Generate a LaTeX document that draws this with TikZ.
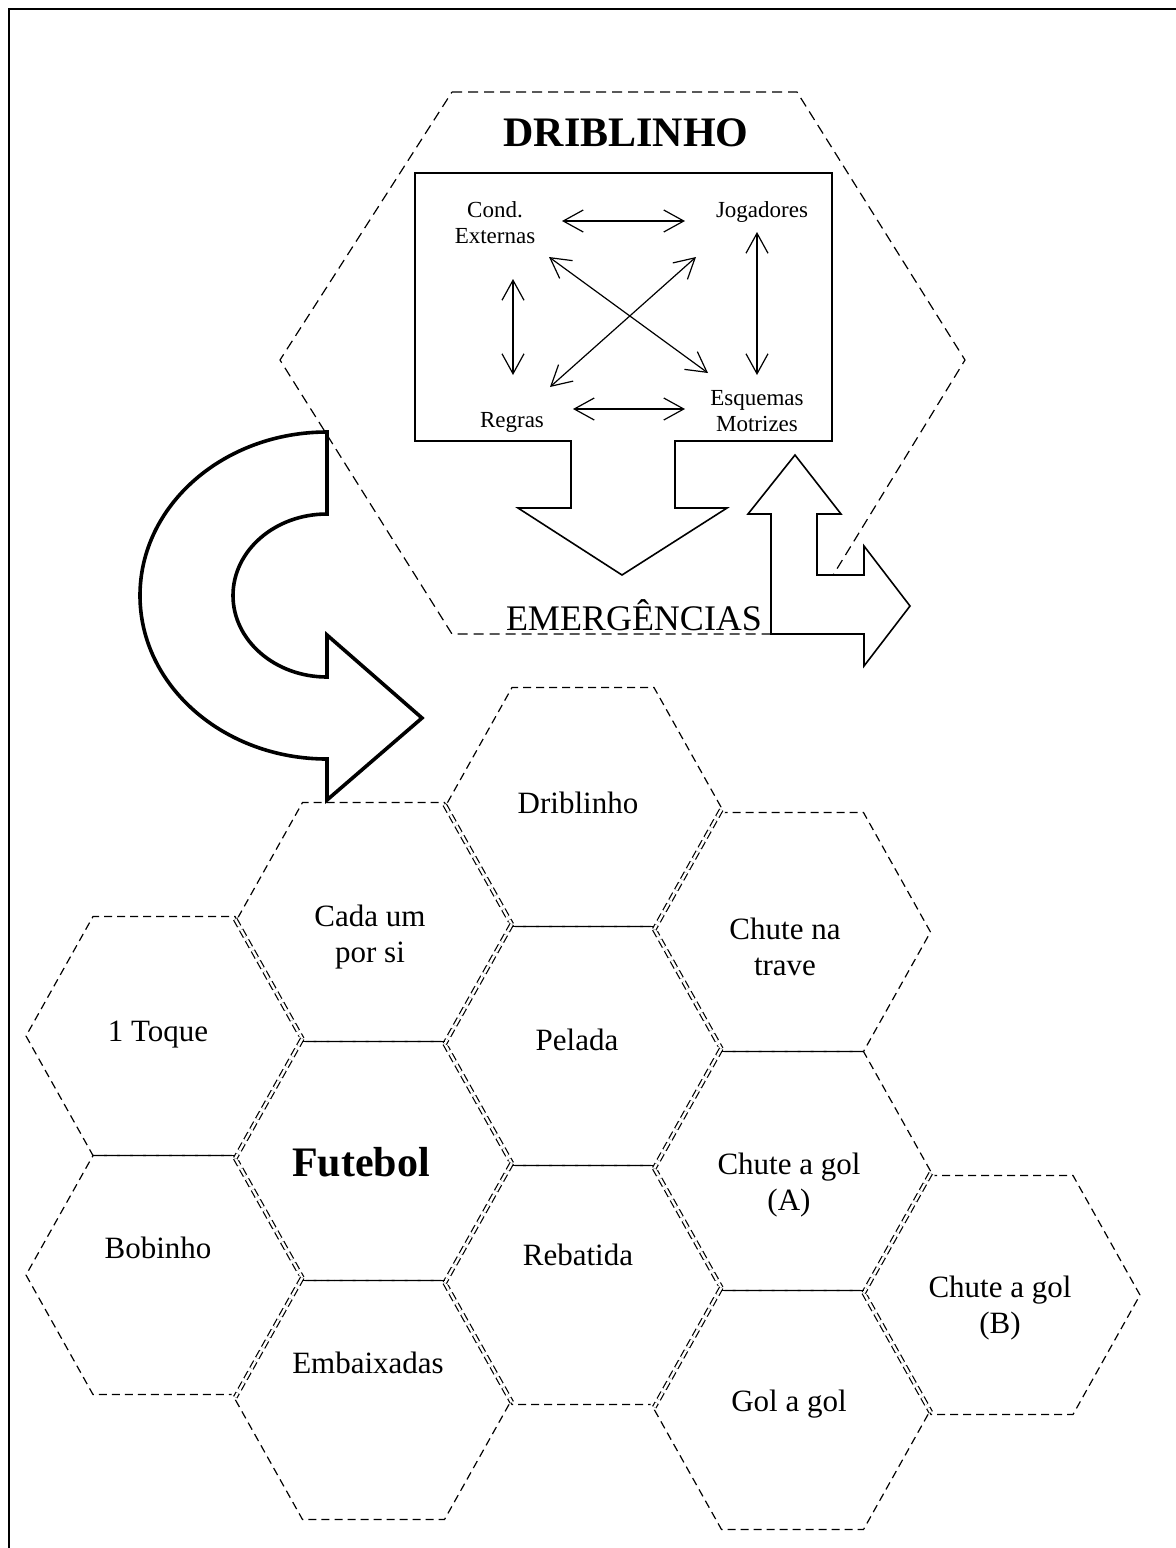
\documentclass[tikz,border=0pt]{standalone}
\usepackage{fontspec}
\setmainfont{Liberation Serif}
\usetikzlibrary{arrows.meta,calc}

\newcommand{\szsmall}{\fontsize{11.5}{13}\selectfont}
\newcommand{\szhex}{\fontsize{15.5}{18}\selectfont}
\newcommand{\szbig}{\fontsize{21}{24}\selectfont\bfseries}
\newcommand{\szem}{\fontsize{18}{21}\selectfont}

% hexagon cell: name, centre x, centre y (pixel units)
\newcommand{\mkhex}[3]{%
  \coordinate (#1) at (#2,#3);
  \coordinate (#1-r)  at ($(#1)+(138,0)$);
  \coordinate (#1-tr) at ($(#1)+(71,-119.5)$);
  \coordinate (#1-tl) at ($(#1)+(-71,-119.5)$);
  \coordinate (#1-l)  at ($(#1)+(-138,0)$);
  \coordinate (#1-bl) at ($(#1)+(-71,119.5)$);
  \coordinate (#1-br) at ($(#1)+(71,119.5)$);
  \draw[hexline] (#1-r) -- (#1-tr) -- (#1-tl) -- (#1-l) -- (#1-bl) -- (#1-br) -- cycle;
}
% shared slanted edge: right cell up-right / down-right of left cell
\newcommand{\shup}[2]{\draw[sharedslant] ($(#1-tr)!.5!(#2-l)$) -- ($(#1-r)!.5!(#2-bl)$);}
\newcommand{\shdn}[2]{\draw[sharedslant] ($(#1-r)!.5!(#2-tl)$) -- ($(#1-br)!.5!(#2-l)$);}

\begin{document}
\begin{tikzpicture}[x=0.5pt,y=-0.5pt,
  hexline/.style={line width=0.6pt, dash pattern=on 4pt off 2.5pt},
  sharedslant/.style={preaction={draw=white, line width=4.5pt, solid},
    line width=0.6pt, double=white, double distance=1.2pt, dash pattern=on 4pt off 2pt},
  sharedflat/.style={line width=0.8pt},
  tophex/.style={line width=0.6pt, dash pattern=on 5pt off 3pt},
  boxline/.style={line width=0.8pt, fill=white, line join=miter},
  bigarrow/.style={line width=1.8pt, fill=white, line join=miter},
  rel/.style={line width=0.6pt, {Straight Barb[length=10pt,width=11pt]}-{Straight Barb[length=10pt,width=11pt]}},
  small/.style={font=\szsmall, align=center, inner sep=0pt},
  hexlab/.style={font=\szhex, align=center, inner sep=0pt},
  biglab/.style={font=\szbig, inner sep=0pt}
]
\useasboundingbox (0,0) rectangle (1176,1548);

% page frame
\draw[line width=1pt] (9,1548) -- (9,9) -- (1176,9);

% ---------- top hexagon ----------
\draw[tophex] (452,92) -- (797,92) -- (965,360) -- (797,634) -- (452,634) -- (280,360) -- cycle;
\node[biglab] (title) at (626,133) {DRIBLINHO};

% box with down arrow
\draw[boxline] (415,441) -- (415,173) -- (832,173) -- (832,441) -- (675,441) -- (675,508)
  -- (727,508) -- (622,575) -- (518,508) -- (571,508) -- (571,441) -- cycle;

\node[small] (cond) at (495,223) {Cond.\\Externas};
\node[small] (jog)  at (762,212) {Jogadores};
\node[small] (reg)  at (512,422) {Regras};
\node[small] (esq)  at (757,411) {Esquemas\\Motrizes};

\coordinate (ct1) at (562,221); \coordinate (jt1) at (685,221);
\coordinate (cv1) at (513,279); \coordinate (rv1) at (513,375);
\coordinate (jv1) at (757,232); \coordinate (ev1) at (757,375);
\coordinate (cd1) at (549,257); \coordinate (ed1) at (708,373);
\coordinate (jd1) at (696,257); \coordinate (rd1) at (550,387);
\coordinate (rb1) at (573,409); \coordinate (eb1) at (685,409);
\draw[rel] (ct1) -- (jt1);
\draw[rel] (cv1) -- (rv1);
\draw[rel] (jv1) -- (ev1);
\draw[rel] (cd1) -- (ed1);
\draw[rel] (jd1) -- (rd1);
\draw[rel] (rb1) -- (eb1);

% up / right arrow
\draw[boxline] (795,455) -- (841,514) -- (817,514) -- (817,575) -- (864,575) -- (864,546)
  -- (910,606) -- (864,666) -- (864,634) -- (771,634) -- (771,514) -- (748,514) -- cycle;

\node[font=\szem, anchor=base, inner sep=0pt] (emer) at (634,630) {EMERGÊNCIAS};

% ---------- honeycomb ----------
\mkhex{A0}{164}{1036}
\mkhex{B0}{164}{1275}
\mkhex{A1}{373.5}{922}
\mkhex{B1}{373.5}{1161}
\mkhex{C1}{373.5}{1400}
\mkhex{A2}{583}{807}
\mkhex{B2}{583}{1046}
\mkhex{C2}{583}{1285}
\mkhex{A3}{792.5}{932}
\mkhex{B3}{792.5}{1171}
\mkhex{C3}{792.5}{1410}
\mkhex{B4}{1002}{1295}

% shared slanted edges (drawn double)
\shup{A0}{A1} \shup{B0}{B1} \shup{A1}{A2} \shup{B1}{B2} \shup{C1}{C2}
\shup{B2}{A3} \shup{C2}{B3} \shup{C3}{B4}
\shdn{A0}{B1} \shdn{B0}{C1} \shdn{A1}{B2} \shdn{B1}{C2}
\shdn{A2}{A3} \shdn{B2}{B3} \shdn{C2}{C3} \shdn{B3}{B4}

% shared horizontal edges
\foreach \h in {A0,A1,B1,A2,B2,A3,B3} {
  \draw[sharedflat] (\h-bl) -- (\h-br);
}

% labels
\node[hexlab] (lDrib) at (578,803) {Driblinho};
\node[hexlab] (lCada) at (370,937) {Cada um\\por si};
\node[hexlab] (lPel)  at (577,1040) {Pelada};
\node[hexlab] (lTrave) at (785,947) {Chute na\\trave};
\node[hexlab] (lToque) at (158,1035) {1 Toque};
\node[biglab] (lFut) at (361,1162) {Futebol};
\node[hexlab] (lGolA) at (789,1185) {Chute a gol\\(A)};
\node[hexlab] (lBob) at (158,1248) {Bobinho};
\node[hexlab] (lReb) at (578,1255) {Rebatida};
\node[hexlab] (lGolB) at (1000,1308) {Chute a gol\\(B)};
\node[hexlab] (lEmb) at (368,1363) {Embaixadas};
\node[hexlab] (lGag) at (789,1404) {Gol a gol};

% ---------- curved arrow ----------
\draw[bigarrow] (327,432) -- (327,514)
  arc[start angle=270, end angle=90, x radius=94, y radius=81.5]
  -- (327,635) -- (422,718) -- (327,800) -- (327,759)
  arc[start angle=90, end angle=270, x radius=187, y radius=163.5]
  -- cycle;

\end{tikzpicture}
\end{document}
